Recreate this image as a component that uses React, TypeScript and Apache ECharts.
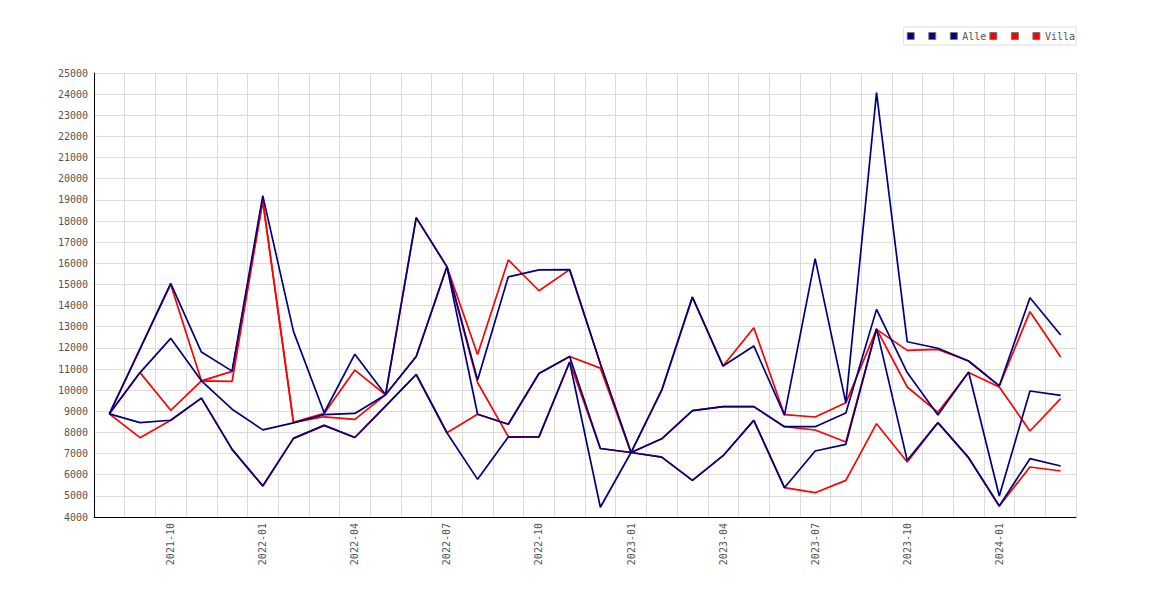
import React, { useEffect, useRef } from "react";
import * as echarts from "echarts";

const months = [
  "2021-08", "2021-09", "2021-10", "2021-11", "2021-12",
  "2022-01", "2022-02", "2022-03", "2022-04", "2022-05", "2022-06", "2022-07", "2022-08", "2022-09", "2022-10", "2022-11", "2022-12",
  "2023-01", "2023-02", "2023-03", "2023-04", "2023-05", "2023-06", "2023-07", "2023-08", "2023-09", "2023-10", "2023-11", "2023-12",
  "2024-01", "2024-02", "2024-03",
];

const alleHigh = [
  8880, 11950, 15050, 11800, 10900, 19200, 12780, 8930, 11700, 9780, 18160, 15840, 10480, 15360, 15690, 15700,
  11250, 7050, 10000, 14400, 11140, 12090, 8820, 16220, 9400, 24070, 12290, 11980, 11380, 10200, 14370, 12610,
];
const alleLow = [
  8880, 8465, 8575, 9620, 7200, 5470, 7720, 8335, 7760, 9240, 10740, 7985, 5781, 7780, 7790, 11330,
  4460, 7050, 6830, 5734, 6900, 8572, 5387, 7122, 7437, 12900, 6680, 8462, 6806, 4520, 6758, 6412,
];
const alleMain = [
  8880, 10830, 12450, 10440, 9100, 8120, 8450, 8840, 8900, 9780, 11590, 15840, 8860, 8385, 10790, 11590,
  7240, 7050, 7700, 9030, 9220, 9220, 8270, 8270, 8920, 13820, 10830, 8820, 10860, 4990, 9960, 9755,
];

const villaHigh = [
  8880, 11950, 15000, 10440, 10890, 18950, 8475, 8900, 10950, 9780, 18160, 15840, 11685, 16158, 14700, 15700,
  11250, 7050, 10000, 14400, 11140, 12955, 8840, 8730, 9400, 12876, 11883, 11930, 11380, 10200, 13712, 11567,
];
const villaLow = [
  8880, 7752, 8575, 9620, 7200, 5470, 7720, 8335, 7760, 9240, 10740, 7985, 8858, 8385, 10790, 11590,
  11040, 7050, 6830, 5734, 6900, 8572, 5387, 5151, 5734, 8414, 6600, 8462, 6806, 4520, 6365, 6176,
];
const villaMain = [
  8880, 10830, 9045, 10440, 10413, 18950, 8475, 8740, 8619, 9780, 11590, 15840, 10363, 7800, 7790, 11330,
  7240, 7050, 7700, 9030, 9220, 9220, 8270, 8115, 7547, 12900, 10148, 8950, 10830, 10150, 8067, 9597,
];

const legendNames = ["Alle ", "Alle  ", "Alle", "Villa ", "Villa  ", "Villa"];

const NAVY = "#000080";
const RED = "#ff0000";
const FONT = '"DejaVu Sans Mono", "Liberation Mono", monospace';

export default function App() {
  const ref = useRef<HTMLDivElement>(null);

  useEffect(() => {
    if (!ref.current) return;
    const chart = echarts.init(ref.current, null, { renderer: "svg" });

    const line = (name: string, data: number[], color: string, z: number) => ({
      name,
      type: "line",
      data,
      symbol: "none",
      showSymbol: false,
      z,
      lineStyle: { color, width: 1.7 },
      itemStyle: { color },
      emphasis: { disabled: true },
    });

    chart.setOption({
      animation: false,
      grid: { left: 94, right: 94, top: 73, bottom: 83 },
      legend: {
        data: legendNames,
        right: 94,
        top: 27,
        icon: "rect",
        itemWidth: 7,
        itemHeight: 7,
        itemGap: 3,
        padding: [4, 1, 4, 3],
        borderColor: "#dddddd",
        borderWidth: 1,
        selectedMode: false,
        itemStyle: { borderColor: "#777777", borderWidth: 1 },
        textStyle: { fontFamily: FONT, fontSize: 10, color: "#555555" },
        formatter: (n: string) => (n === "Alle" || n === "Villa" ? n : " "),
      },
      xAxis: {
        type: "category",
        data: months,
        boundaryGap: true,
        axisLine: { lineStyle: { color: "#000000", width: 1 } },
        axisTick: { show: false },
        axisLabel: {
          interval: (i: number) => i % 3 === 2,
          rotate: 90,
          margin: 6,
          fontFamily: FONT,
          fontSize: 10,
          color: "#555555",
        },
        splitLine: { show: true, interval: 0, lineStyle: { color: "#dcdcdc", width: 1 } },
      },
      yAxis: {
        type: "value",
        min: 4000,
        max: 25000,
        interval: 1000,
        axisLine: { show: true, lineStyle: { color: "#000000", width: 1 } },
        axisTick: { show: false },
        axisLabel: {
          margin: 6,
          fontFamily: FONT,
          fontSize: 10,
          color: "#555555",
          formatter: (v: number) => String(v),
        },
        splitLine: { show: true, lineStyle: { color: "#dcdcdc", width: 1 } },
      },
      series: [
        line("Villa ", villaHigh, RED, 2),
        line("Villa  ", villaLow, RED, 2),
        line("Villa", villaMain, RED, 2),
        line("Alle ", alleHigh, NAVY, 3),
        line("Alle  ", alleLow, NAVY, 3),
        line("Alle", alleMain, NAVY, 3),
      ],
    });

    return () => chart.dispose();
  }, []);

  return (
    <div
      ref={ref}
      style={{ position: "absolute", left: 0, top: 0, width: 1170, height: 600, background: "#ffffff" }}
    />
  );
}
